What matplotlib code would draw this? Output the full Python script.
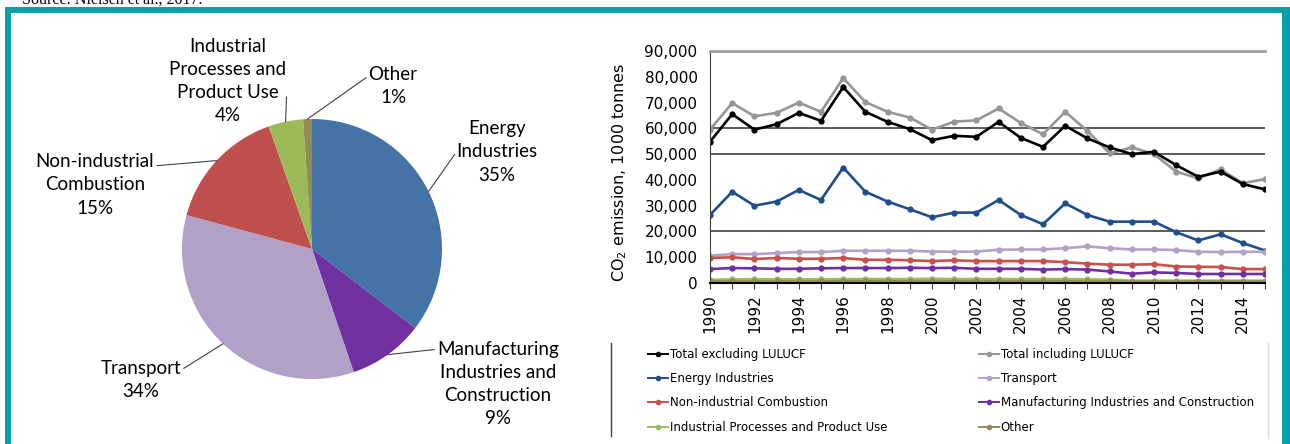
import numpy as np
import matplotlib
matplotlib.use("Agg")
import matplotlib.pyplot as plt
from matplotlib.patches import Rectangle
from matplotlib.lines import Line2D

# ---- pie data (share of 2015 CO2 emissions) ----
pie_labels = ["Energy\nIndustries", "Manufacturing\nIndustries and\nConstruction", "Transport",
              "Non-industrial\nCombustion", "Industrial\nProcesses and\nProduct Use", "Other"]
pie_values = [35.4, 9.4, 34.4, 15.4, 4.3, 1.1]
pie_pct = ["35%", "9%", "34%", "15%", "4%", "1%"]
pie_colors = ["#4572A7", "#7030A0", "#B2A1C7", "#C0504D", "#9BBB59", "#948A54"]

# ---- time series, 1000 tonnes CO2 ----
years = list(range(1990, 2016))
total_excl = [54800, 65500, 59500, 61600, 66000, 62900, 76000, 66400, 62500, 59700, 55400, 57100, 56700,
              62500, 56300, 52800, 61000, 56100, 52600, 50000, 50900, 45700, 41200, 43200, 38400, 36300]
total_incl = [59500, 69800, 64700, 66000, 70000, 66400, 79500, 70200, 66400, 64200, 59500, 62600, 63100,
              67700, 62100, 57700, 66400, 59000, 50300, 52600, 50000, 43200, 40600, 44100, 38700, 40300]
energy = [26400, 35400, 30000, 31600, 36100, 32200, 44800, 35400, 31600, 28600, 25500, 27300, 27300,
          32200, 26400, 22800, 30900, 26400, 23800, 23800, 23800, 19700, 16500, 18900, 15500, 12600]
transport = [10600, 11200, 11200, 11600, 12000, 12000, 12500, 12500, 12500, 12500, 12200, 12100, 12200,
             12900, 13000, 13000, 13500, 14200, 13500, 13000, 13000, 12800, 12100, 12000, 12100, 12100]
non_industrial = [9700, 10000, 9300, 9700, 9400, 9400, 9700, 9000, 9000, 8800, 8500, 8800, 8500,
                  8500, 8500, 8500, 8100, 7500, 7100, 7100, 7300, 6400, 6300, 6200, 5400, 5400]
manufacturing = [5400, 5800, 5700, 5500, 5500, 5700, 5800, 5800, 5800, 5900, 5800, 5900, 5500,
                 5500, 5500, 5200, 5400, 5200, 4500, 3600, 4100, 3900, 3500, 3500, 3500, 3500]
industrial = [1200, 1400, 1400, 1400, 1400, 1400, 1500, 1500, 1500, 1500, 1600, 1500, 1500,
              1500, 1500, 1500, 1500, 1400, 1300, 900, 900, 900, 900, 900, 900, 900]
other = [600, 600, 600, 600, 600, 600, 700, 700, 700, 600, 600, 600, 600,
         600, 600, 600, 600, 600, 600, 500, 500, 500, 500, 500, 500, 500]

grid_levels = [20000, 50000, 60000]

W, H = 1290, 444
fig = plt.figure(figsize=(W / 100, H / 100), dpi=100)

def px(x, y):
    return x / W, 1 - y / H

# teal frame of the document box
teal = "#0A9DAA"
fig.add_artist(Rectangle(px(5, 13), 1 - 5 / W, 6 / H, transform=fig.transFigure, color=teal, lw=0))
fig.add_artist(Rectangle(px(5, 444), 6 / W, 431 / H, transform=fig.transFigure, color=teal, lw=0))
fig.add_artist(Rectangle(px(1282, 444), 8 / W, 431 / H, transform=fig.transFigure, color=teal, lw=0))
fig.text(*px(22, 4), "Source: Nielsen et al., 2017.", family="Liberation Serif", fontsize=11.5,
         va="baseline", ha="left")

# ---- pie ----
R = 130.0
cx, cy = 312, 249
axp = fig.add_axes([10 / W, 0, 590 / W, 429 / H])
wedges, _ = axp.pie(pie_values, colors=pie_colors, startangle=90, counterclock=False,
                    wedgeprops=dict(linewidth=0))
axp.set_xlim(-(cx - 10) / R, (600 - cx) / R)
axp.set_ylim(-(H - cy) / R, (cy - 15) / R)
axp.set_aspect("auto")
axp.axis("off")

label_pos = [(497, 152), (498, 384), (141, 380), (95, 185), (228, 81), (393, 86)]
# where the leader line leaves the label box
leader_rel = [(0.0, 0.5), (0.0, 0.9), (1.0, 0.75), (1.0, 0.8), (1.0, 0.35), (0.0, 0.75)]
for w, lab, pct, (lx, ly), rel in zip(wedges, pie_labels, pie_pct, label_pos, leader_rel):
    mid = np.deg2rad((w.theta1 + w.theta2) / 2)
    axp.annotate(lab + "\n" + pct, xy=(np.cos(mid), np.sin(mid)),
                 xytext=((lx - cx) / R, (cy - ly) / R), ha="center", va="center",
                 multialignment="center", family="Lato", fontsize=13.5, linespacing=1.45,
                 arrowprops=dict(arrowstyle="-", color="#404040", lw=0.8, shrinkA=2, shrinkB=0,
                                 relpos=rel, patchA=None))

# ---- line chart ----
ax = fig.add_axes([710 / W, 1 - 283 / H, 555 / W, 232 / H])
series = [
    ("Total including LULUCF", total_incl, "#969696"),
    ("Total excluding LULUCF", total_excl, "black"),
    ("Energy Industries", energy, "#1F4E8C"),
    ("Transport", transport, "#B3A2C7"),
    ("Non-industrial Combustion", non_industrial, "#C9504B"),
    ("Manufacturing Industries and Construction", manufacturing, "#7030A0"),
    ("Industrial Processes and Product Use", industrial, "#9BBB59"),
    ("Other", other, "#948A54"),
]
lines = {}
for name, vals, col in series:
    ln, = ax.plot(years, vals, color=col, lw=1.9, marker="o", markersize=3.5, label=name)
    lines[name] = ln

for g in grid_levels:
    ax.axhline(g, color="#404040", lw=1.2, zorder=0)

ax.set_xlim(1990, 2015)
ax.set_ylim(0, 90000)
ax.set_yticks(range(0, 90001, 10000))
ax.set_yticklabels([f"{v:,}" for v in range(0, 90001, 10000)], fontsize=11)
ax.tick_params(axis="y", length=0, pad=9)
ax.set_xticks(years)
ax.set_xticklabels([str(y) if y % 2 == 0 and y < 2015 else "" for y in years], rotation=90, fontsize=11)
ax.tick_params(axis="x", length=4, color="#404040", pad=4)
ax.spines["right"].set_visible(False)
ax.spines["top"].set_color("#A0A0A0")
ax.spines["top"].set_linewidth(2)
ax.spines["left"].set_color("#404040")
ax.spines["bottom"].set_color("black")
ax.spines["bottom"].set_linewidth(1.5)
fig.text(*px(620, 172), "CO$_2$ emission, 1000 tonnes", rotation=90, fontsize=11.5, ha="center", va="center")

# legend, two columns
col1 = ["Total excluding LULUCF", "Energy Industries", "Non-industrial Combustion",
        "Industrial Processes and Product Use"]
col2 = ["Total including LULUCF", "Transport", "Manufacturing Industries and Construction", "Other"]
for names, x0 in [(col1, 648), (col2, 979)]:
    hs = [Line2D([], [], color=lines[n].get_color(), lw=1.4, marker="o", markersize=3) for n in names]
    fig.legend(hs, names, loc="upper left", bbox_to_anchor=px(x0, 348), frameon=False, fontsize=8.5,
               handlelength=1.7, handletextpad=0.15, labelspacing=0.95, borderpad=0, borderaxespad=0)
fig.add_artist(Line2D([611 / W, 611 / W], [1 - 343 / H, 1 - 436 / H], color="#404040", lw=1))
fig.add_artist(Line2D([1268 / W, 1268 / W], [1 - 343 / H, 1 - 438 / H], color="#D9D9D9", lw=1))

fig.savefig("out.png", dpi=100)
